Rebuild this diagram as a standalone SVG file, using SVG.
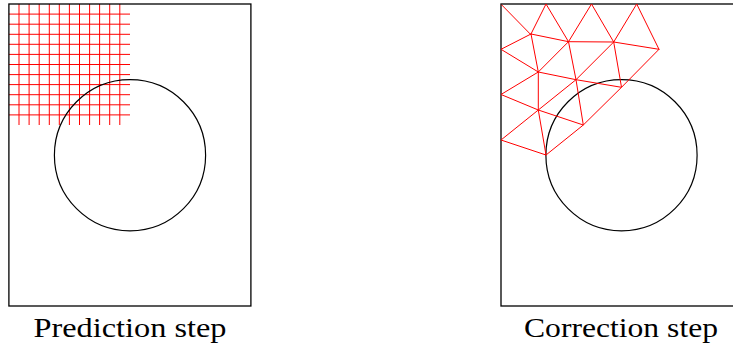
<svg xmlns="http://www.w3.org/2000/svg" width="733" height="349" viewBox="0 0 733 349">
<style>
.frame{fill:none;stroke:#000;stroke-width:1.3}
.circ{fill:none;stroke:#000;stroke-width:1.2}
.grid{stroke:#ff0000;stroke-width:1;fill:none}
.mesh{stroke:#ff0000;stroke-width:1;fill:none;stroke-linejoin:round;stroke-linecap:round}
.label{font-family:"Liberation Serif","DejaVu Serif",serif;font-size:28px;fill:#000;text-anchor:middle}
</style>
<g id="prediction">
<g id="prediction-grid" class="grid">
<path d="M19 4V125M29.1 4V125M39.2 4V125M49.3 4V125M59.3 4V125M69.4 4V125M79.5 4V125M89.6 4V125M99.6 4V125M109.7 4V125M119.8 4V125"/>
<path d="M9 14.1H130M9 24.2H130M9 34.3H130M9 44.3H130M9 54.4H130M9 64.5H130M9 74.6H130M9 84.6H130M9 94.7H130M9 104.8H130M9 114.9H130"/>
</g>
<rect class="frame" x="8.9" y="4" width="242" height="302"/>
<circle class="circ" cx="130" cy="155.2" r="75.6"/>
<text class="label" x="130" y="336.5" textLength="193" lengthAdjust="spacingAndGlyphs">Prediction step</text>
</g>
<g id="correction">
<rect class="frame" x="501" y="4" width="242" height="302"/>
<circle class="circ" cx="621.5" cy="155.2" r="75.6"/>
<g id="correction-mesh" class="mesh">
<line x1="501.8" y1="5" x2="530.8" y2="34.6"/>
<path d="M531 34L546 4L568.5 41.7L591.5 4L613.7 42L636.7 4L659 49.3L621.5 87.3L583.3 125L546 155L501 140L538.3 110L501 94.5L538.3 72L501 49.3L531 34"/>
<path d="M531 34L568.5 41.7L613.7 42L659 49.3"/>
<path d="M531 34L538.3 72L538.3 110L546 155"/>
<path d="M568.5 41.7L538.3 72L576 79.7L568.5 41.7"/>
<path d="M613.7 42L576 79.7L621.5 87.3L613.7 42"/>
<path d="M576 79.7L538.3 110L583.3 125L576 79.7"/>
</g>
<text class="label" x="621" y="336.5" textLength="194" lengthAdjust="spacingAndGlyphs">Correction step</text>
</g>
</svg>
